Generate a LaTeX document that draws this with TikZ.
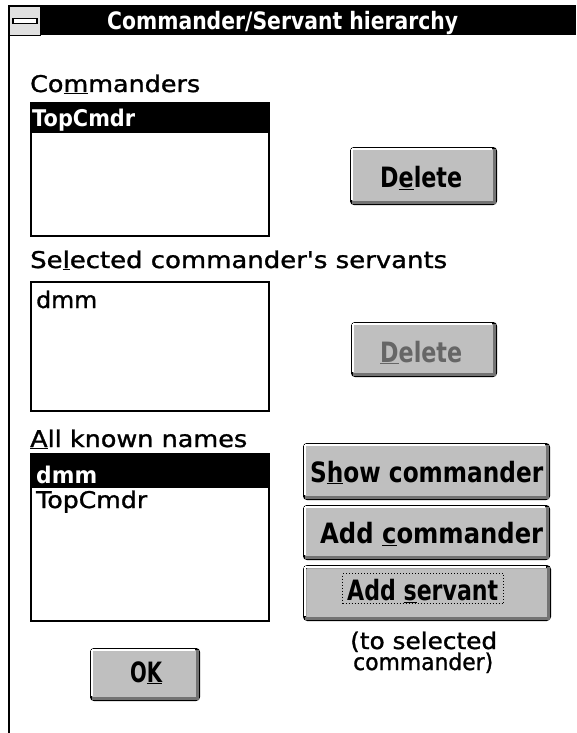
\documentclass[tikz,border=0pt]{standalone}
\usepackage{fontspec}
\setmainfont{DejaVu Sans}[Ligatures=TeXOff]
\newfontfamily\lblfont{DejaVu Sans}[Ligatures=TeXOff, FakeBold=1.2]
\usepackage{graphicx}
\newcommand\fw[2]{\resizebox{#1pt}{\height}{#2}}
\newcommand\btnshade[1]{%
  \fill[black!55] ([shift={(2pt,1pt)}]#1.south west) rectangle ([shift={(-1pt,4pt)}]#1.south east);
  \fill[black!55] ([shift={(-4pt,1pt)}]#1.south east) rectangle ([shift={(-1pt,-2pt)}]#1.north east);
  \fill[white] ([shift={(2pt,-1pt)}]#1.north west) rectangle ([shift={(-5pt,-3pt)}]#1.north east);
  \fill[white] ([shift={(1pt,-2pt)}]#1.north west) rectangle ([shift={(3pt,5pt)}]#1.south west);
}
\tikzset{
  lbl/.style={anchor=base west, inner sep=0pt, font=\fontsize{23}{26}\lblfont},
  seltext/.style={anchor=base west, inner sep=0pt, font=\fontsize{23}{26}\selectfont\bfseries, text=white},
  btntext/.style={anchor=base west, inner sep=0pt, font=\fontsize{28}{32}\selectfont\bfseries},
  lbox/.style={draw=black, line width=1.5pt, fill=white, inner sep=0pt, anchor=north west},
  btn/.style={draw=black, line width=2pt, fill=black!25, rounded corners=3pt, inner sep=0pt, anchor=north west},
}
\begin{document}
\begin{tikzpicture}[x=1pt, y=-1pt]
\useasboundingbox (0,0) rectangle (576,733);
\fill[white] (0,0) rectangle (576,733);
% window frame and title bar
\draw[line width=2pt] (9,35) -- (9,733);
\fill[black] (8,5) rectangle (576,35);
\node[draw=black, line width=1pt, fill=black!12, minimum width=31pt, minimum height=29pt, inner sep=0pt, anchor=north west] (sysmenu) at (9,6) {};
\node[draw=black, line width=1.5pt, fill=white, minimum width=24pt, minimum height=5pt, inner sep=0pt] (sysbar) at (sysmenu.center) {};
\node[anchor=base west, inner sep=0pt, text=white, font=\fontsize{24}{26}\selectfont\bfseries] (title) at (107,30) {\fw{351}{Commander/Servant hierarchy}};

% Commanders
\node[lbl] (lcmd) at (30,92) {\fw{170}{Co\underline{m}manders}};
\node[lbox, minimum width=238pt, minimum height=133pt] (lb1) at (30,102) {};
\fill[black] (lb1.north west) rectangle ([yshift=-31pt]lb1.north east);
\node[seltext] (lb1a) at (32,127) {\fw{103}{TopCmdr}};
\node[btn, minimum width=145pt, minimum height=56pt] (del1) at (350,147) {};
\btnshade{del1}
\node[btntext] (del1t) at (380,187) {\fw{82}{D\underline{e}lete}};

% Servants
\node[lbl] (lserv) at (30,268) {\fw{417}{Se\underline{l}ected commander's servants}};
\node[lbox, minimum width=238pt, minimum height=129pt] (lb2) at (30,281) {};
\node[lbl] (lb2a) at (36,308) {\fw{61}{dmm}};
\node[btn, minimum width=144pt, minimum height=53pt] (del2) at (351,322) {};
\btnshade{del2}
\node[btntext, text=black!60] (del2t) at (380,362) {\fw{82}{\underline{D}elete}};

% All known names
\node[lbl] (lall) at (30,447) {\fw{217}{\underline{A}ll known names}};
\node[lbox, minimum width=238pt, minimum height=167pt] (lb3) at (30,453) {};
\fill[black] (lb3.north west) rectangle ([yshift=-35pt]lb3.north east);
\node[seltext] (lb3a) at (36,483) {\fw{61}{dmm}};
\node[lbl] (lb3b) at (36,508) {\fw{111}{TopCmdr}};

% Right buttons
\node[btn, minimum width=245pt, minimum height=55pt] (showc) at (303,443) {};
\btnshade{showc}
\node[btntext] (showct) at (310,482) {\fw{233}{S\underline{h}ow commander}};
\node[btn, minimum width=245pt, minimum height=53pt] (addc) at (303,505) {};
\btnshade{addc}
\node[btntext] (addct) at (320,543) {\fw{223}{Add \underline{c}ommander}};
\node[btn, line width=3pt, minimum width=245pt, minimum height=53pt] (adds) at (303,565) {};
\btnshade{adds}
\node[draw=black, dotted, line width=1pt, minimum width=161pt, minimum height=30pt, inner sep=0pt, anchor=north west] (focus) at (342,573) {};
\node[btntext] (addst) at (347,600) {\fw{151}{Add \underline{s}ervant}};
\node[lbl] (note1) at (350,649) {\fw{147}{(to selected}};
\node[lbl] (note2) at (353,670) {\fw{140}{commander)}};

% OK
\node[btn, minimum width=108pt, minimum height=51pt] (ok) at (90,648) {};
\btnshade{ok}
\node[btntext] (okt) at (130,682) {\fw{32}{O\underline{K}}};
\end{tikzpicture}
\end{document}
